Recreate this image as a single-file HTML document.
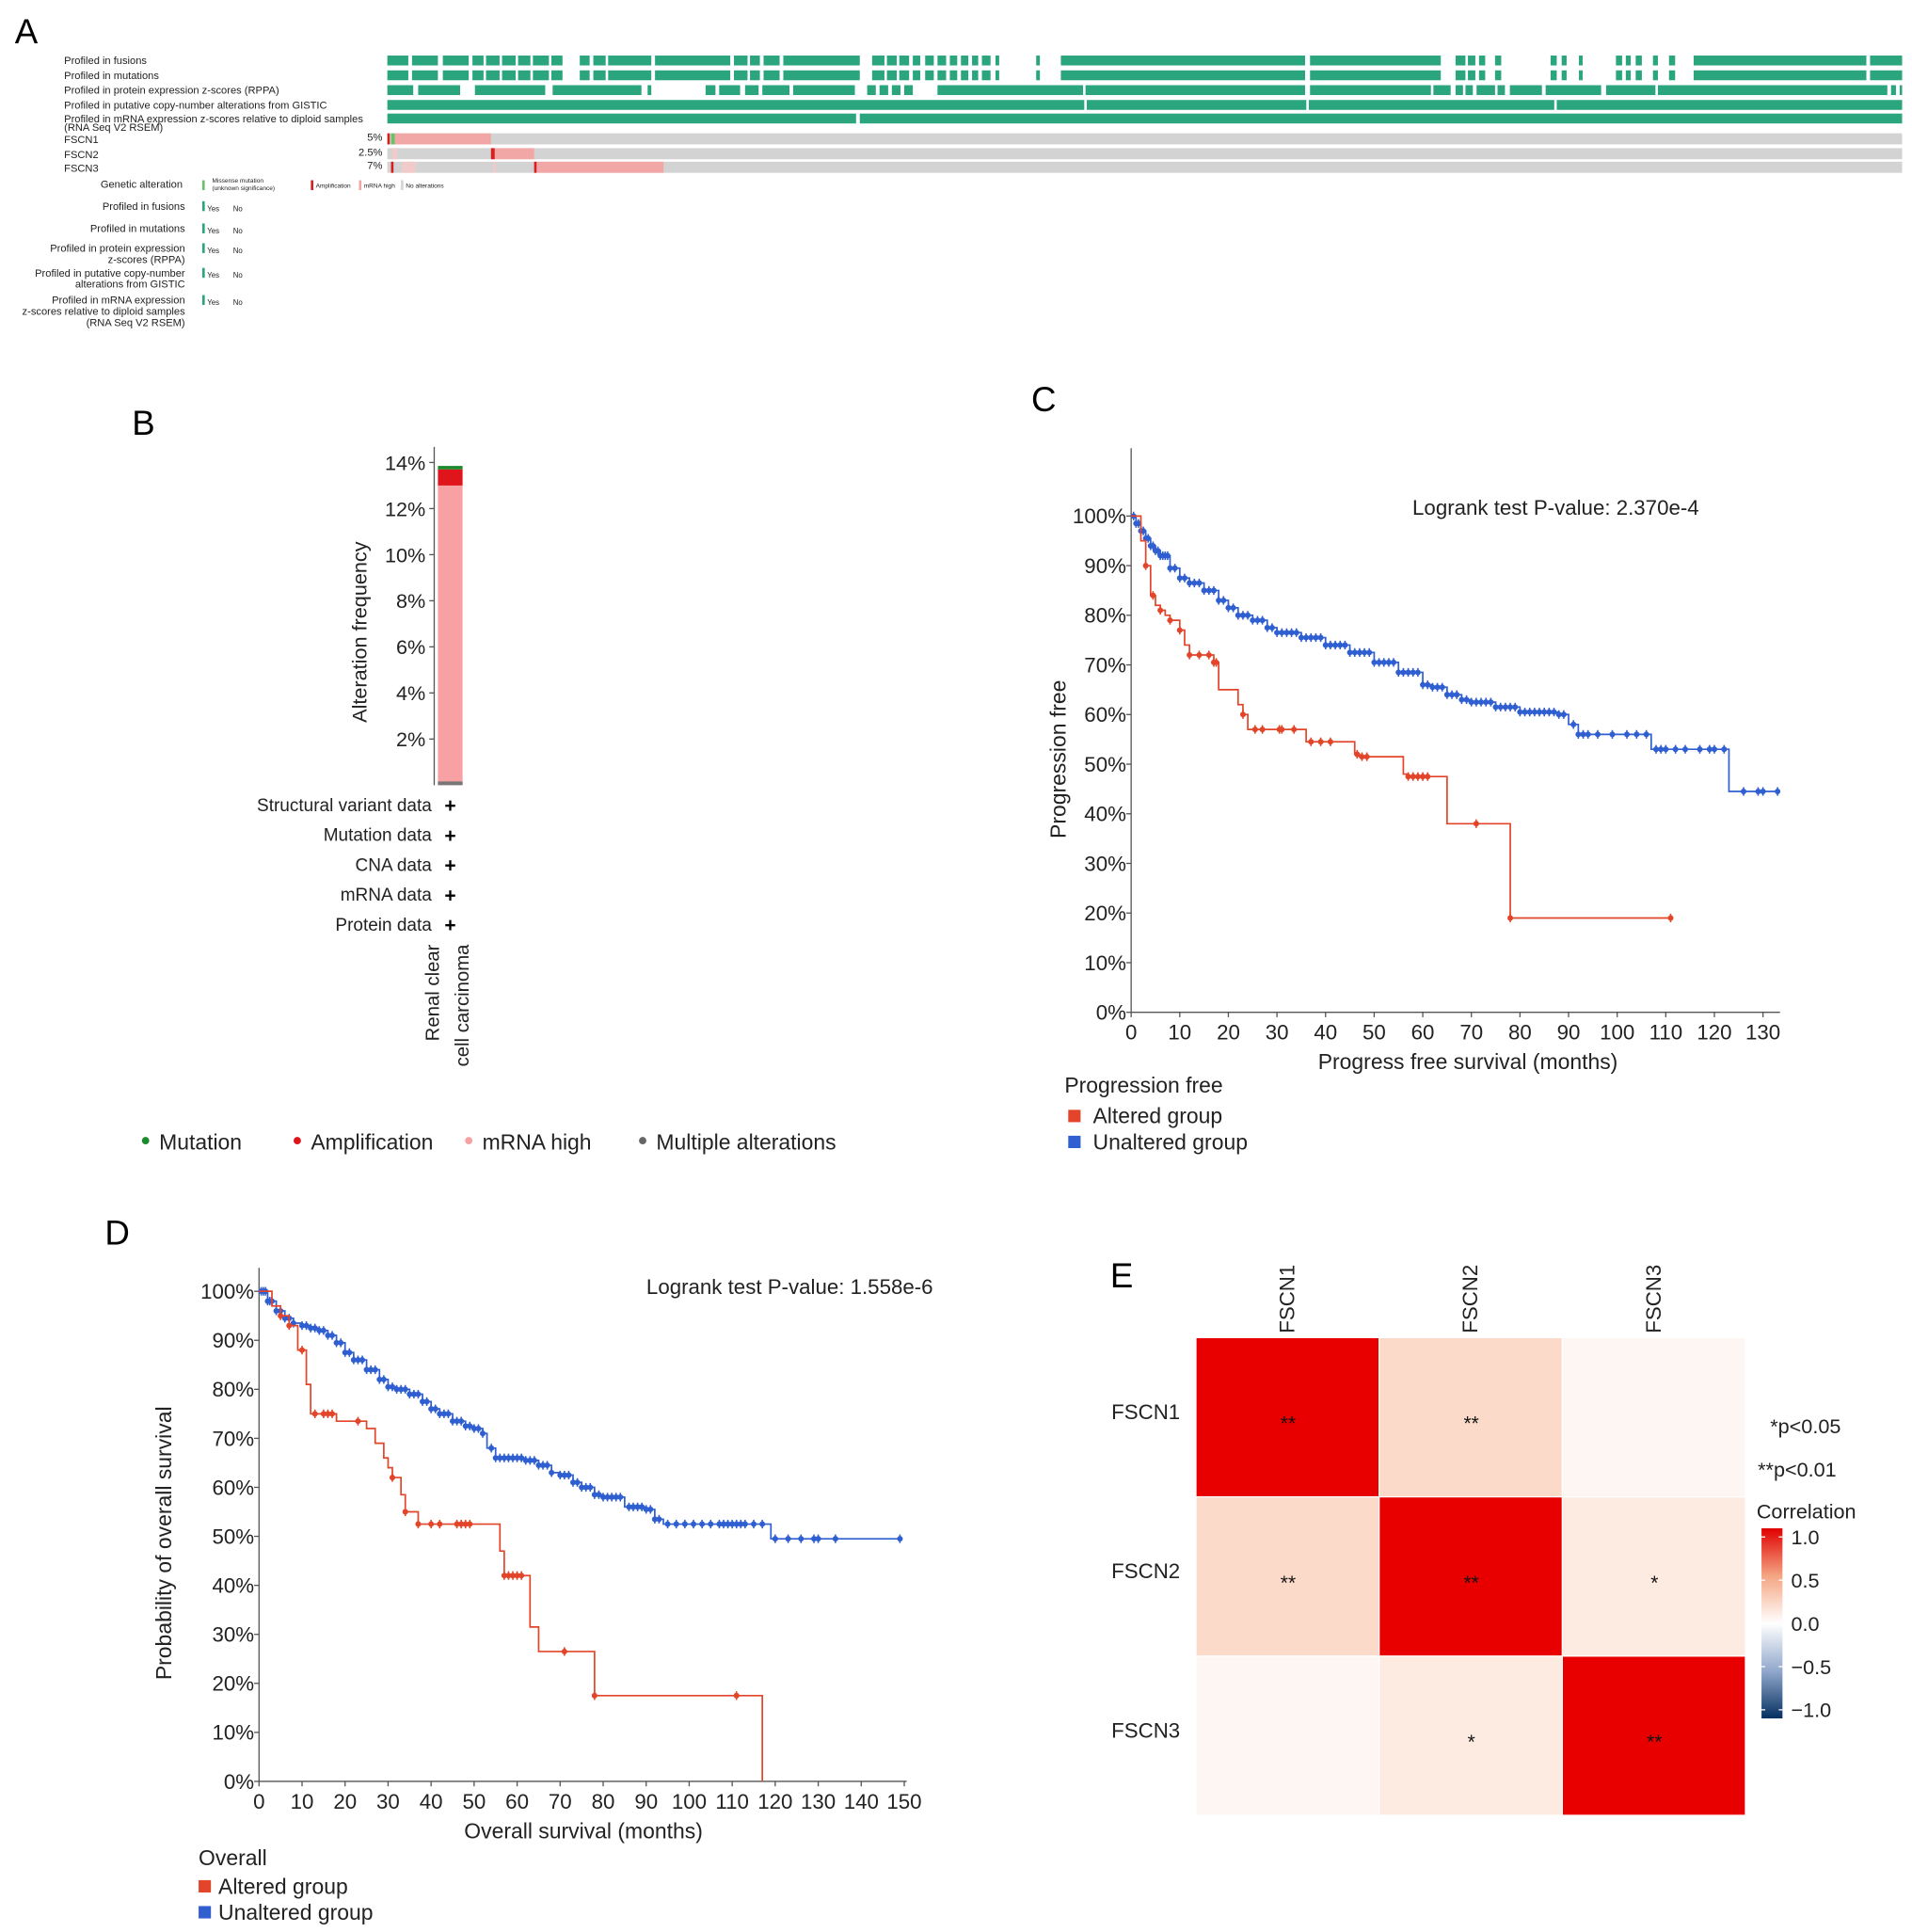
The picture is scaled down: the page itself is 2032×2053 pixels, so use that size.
<!DOCTYPE html>
<html><head><meta charset="utf-8"><style>
html,body{margin:0;padding:0;background:#fff}
svg{display:block;font-family:"Liberation Sans",Arial,sans-serif}
</style></head><body>
<svg id="fig" width="2032" height="2053" viewBox="0 0 1550 1565" preserveAspectRatio="none" xmlns="http://www.w3.org/2000/svg">
<rect width="1550" height="1565" fill="#fff"/>
<g id="pA"></g>
<g id="pB"></g>
<g id="pC"></g>
<g id="pD"></g>
<g id="pE"></g>
</svg>
<script>
// ---------------- DATA ----------------
const cAltT=[0,2,3,4,5,6,7,8,10,11,12,17,18,22,23,24,36,46,47,56,57,65,78];
const cAltS=[100,95,90,84,82,81,80,79,77,74,72,70.5,65,62,60,57,54.5,52,51.5,48,47.5,38,19];
const cAltEnd=111;
const cAltCens=[3,4.5,6,8,10,12,14,16,17,17.5,23,25.5,27,30.5,31,33.5,37,39,41,46.5,47.5,48.5,57,58,59,60,61,71,78,111];
const cUnT=[0,1,2,3,4,5,6,8,10,12,15,18,20,22,25,28,30,35,40,45,50,55,60,62,65,68,70,75,80,88,90,92,107,123];
const cUnS=[100,98.5,97,95.5,94,93,92,89.5,87.5,86.5,85,83,81.5,80,79,77.5,76.5,75.5,74,72.5,70.5,68.5,66,65.5,64,63,62.5,61.5,60.5,60,58,56,53,44.5];
const cUnEnd=133;
const cUnCens=[0.5,1,1.5,2,2.5,3,3.5,4,4.5,5,5.5,6,6.5,7,7.5,8,9,10,11,12,13,14,15,16,17,18,19,20,21,22,23,24,25,26,27,28,29,30,31,32,33,34,35,36,37,38,39,40,41,42,43,44,45,46,47,48,49,50,51,52,53,54,55,56,57,58,59,60,61,62,63,64,65,66,67,68,69,70,71,72,73,74,75,76,77,78,79,80,81,82,83,84,85,86,87,88,89,91,92,93,94,96,99,102,104,106,108,109,110,112,114,117,119,120,122,126,129,130,133];
const cTicksX=[0,10,20,30,40,50,60,70,80,90,100,110,120,130];
const survTicks=[0,10,20,30,40,50,60,70,80,90,100];
const dAltT=[0,3,5,7,9,11,12,18,22,25,27,29,30,31,33,34,37,56,57,63,65,78,117];
const dAltS=[100,97,95,93,88,81,75,73.5,73.5,72,69,66,64,62,58.5,55,52.5,47,42,31.5,26.5,17.5,0];
const dAltEnd=117;
const dAltCens=[5,7,10,13,15,16,17,23,31,34,37,40,42,46,47,48,49,57,58,59,60,61,71,78,111];
const dUnT=[0,2,4,6,8,10,12,14,16,18,20,22,25,28,30,32,35,38,40,42,45,48,50,52,53,55,62,65,68,70,73,75,78,80,85,90,92,94,119];
const dUnS=[100,98,96,94.5,93.5,93,92.5,92,91,89.5,87.5,86,84,82,80.5,80,79,77.5,76,75,73.5,72.5,72,71,68,66,65.5,64.5,63,62.5,61,60,58.5,58,56,55.5,53.5,52.5,49.5];
const dUnEnd=149;
const dUnCens=[0.5,1,1.5,2,2.5,3,4,5,6,7,8,10,11,12,13,14,15,16,17,18,19,20,21,22,23,24,25,26,27,28,29,30,31,32,33,34,35,36,37,38,39,40,41,42,43,44,45,46,47,48,49,50,51,52,54,55,56,57,58,59,60,61,62,63,64,65,66,67,68,70,71,72,73,74,75,76,77,78,79,80,81,82,83,84,86,87,88,89,90,91,92,93,95,97,99,101,103,105,107,108,109,110,111,112,113,115,117,120,123,126,129,130,134,149];
const dTicksX=[0,10,20,30,40,50,60,70,80,90,100,110,120,130,140,150];
const bSegLabels=["mRNA high","Amplification","Mutation","Multiple alterations"];
const bSegValues=[13.0,0.7,0.15,0.0];
const bTicks=[2,4,6,8,10,12,14];
const eGenes=["FSCN1","FSCN2","FSCN3"];
const eCorr=[[1,0.13,0.03],[0.13,1,0.07],[0.03,0.07,1]];
const eSig=[["**","**",""],["**","**","*"],["","*","**"]];
const eLegendTicks=[1.0,0.5,0.0,-0.5,-1.0];

// ---------------- HELPERS ----------------
const NS="http://www.w3.org/2000/svg";
function mk(parent,tag,attrs,text){const e=document.createElementNS(NS,tag);for(const k in attrs)e.setAttribute(k,attrs[k]);if(text!==undefined)e.textContent=text;parent.appendChild(e);return e;}
function txt(parent,x,y,s,size,anchor,extra){const a=Object.assign({x:x,y:y,'font-size':size,'text-anchor':anchor||'start',fill:'#222'},extra||{});return mk(parent,'text',a,s);}

// ---------------- PANEL A ----------------
(function(){
const g=document.getElementById('pA');
const L=txt(g,12,35,'A',28,'start',{fill:'#000'});


const rowLabels=["Profiled in fusions","Profiled in mutations","Profiled in protein expression z-scores (RPPA)","Profiled in putative copy-number alterations from GISTIC","Profiled in mRNA expression z-scores relative to diploid samples"];
const rowY=[45,57,69,81,92];
const gaps=[
[[331,334],[355,359],[380,383],[392,394],[405,407],[418,420],[430,432],[445,447],[456,470],[478,481],[491,493],[528,531],[592,595],[606,608],[616,619],[632,635],[697,707],[717,719],[727,729],[737,740],[746,750],[757,760],[767,770],[776,779],[785,788],[793,796],[803,807],[810,840],[843,860],[1058,1062],[1168,1180],[1188,1190],[1196,1199],[1204,1212],[1217,1257],[1262,1266],[1270,1280],[1283,1310],[1315,1318],[1322,1326],[1331,1340],[1344,1353],[1358,1373],[1513,1516]],
null,
[[335,339],[373,385],[442,448],[520,525],[528,572],[580,583],[600,604],[615,618],[640,643],[693,703],[710,713],[720,723],[730,733],[740,760],[878,880],[1058,1062],[1160,1162],[1176,1180],[1186,1188],[1194,1197],[1212,1214],[1220,1224],[1250,1253],[1298,1302],[1342,1344],[1530,1533],[1537,1540]],
[[879,881],[1059,1061],[1260,1262]],
[[694,697]]];
gaps[1]=gaps[0];
rowLabels.forEach((s,i)=>{
  const t=txt(g,52,rowY[i]+7,s,8.5);
  
  
  const r=mk(g,'rect',{x:314,y:rowY[i],width:1228,height:8,fill:'#2aa57e'});
  
  
  gaps[i].forEach(gp=>mk(g,'rect',{x:gp[0],y:rowY[i]-1,width:gp[1]-gp[0],height:10,fill:'#fff'}));
});
txt(g,52,106,'(RNA Seq V2 RSEM)',8.5);
const genes=[["FSCN1","5%",108],["FSCN2","2.5%",120],["FSCN3","7%",131]];
const segs=[[[320,398,'#f2a7a7'],[314,316,'#d62020'],[317,320,'#6ac36a']],[[400,433,'#f2a7a7'],[398,401,'#d62020'],[318,322,'#f2caca']],[[435,538,'#f2a7a7'],[433,435,'#d62020'],[317,319,'#d62020'],[326,337,'#f2caca'],[400,402,'#f2caca']]];
genes.forEach((gn,i)=>{
  const t=txt(g,52,gn[2]+8,gn[0],8.5);
  
  
  txt(g,310,gn[2]+6,gn[1],8.5,'end');
  const r=mk(g,'rect',{x:314,y:gn[2],width:1228,height:9,fill:'#d3d3d3'});
  
  
  segs[i].forEach(sg=>mk(g,'rect',{x:sg[0],y:gn[2],width:sg[1]-sg[0],height:9,fill:sg[2]}));
});
txt(g,148,152,'Genetic alteration',8.5,'end');
mk(g,'rect',{x:164,y:146,width:2,height:8,fill:'#6ac36a'});
txt(g,172,148,'Missense mutation',5);txt(g,172,154,'(unknown significance)',5);
mk(g,'rect',{x:252,y:146,width:2,height:8,fill:'#d62020'});txt(g,256,152,'Amplification',5);
mk(g,'rect',{x:291,y:146,width:2,height:8,fill:'#f2a7a7'});txt(g,295,152,'mRNA high',5);
mk(g,'rect',{x:325,y:146,width:2,height:8,fill:'#d3d3d3'});txt(g,329,152,'No alterations',5);
const leg=[["Profiled in fusions",null,170],["Profiled in mutations",null,188],["Profiled in protein expression","z-scores (RPPA)",204],["Profiled in putative copy-number","alterations from GISTIC",224],["Profiled in mRNA expression","z-scores relative to diploid samples",246]];
leg.forEach(l=>{
  txt(g,150,l[2],l[0],8.5,'end');
  if(l[1])txt(g,150,l[2]+9,l[1],8.5,'end');
  mk(g,'rect',{x:164,y:l[2]-7,width:2,height:8,fill:'#2aa57e'});
  txt(g,168,l[2]+1,'Yes',6);txt(g,189,l[2]+1,'No',6);
});
txt(g,150,264,'(RNA Seq V2 RSEM)',8.5,'end');
})();

// ---------------- PANEL B ----------------
(function(){
const g=document.getElementById('pB');
const L=txt(g,107,352,'B',28,'start',{fill:'#000'});


const y0=636,ppu=18.67;const yB=v=>y0-v*ppu;
mk(g,'line',{x1:352,y1:362,x2:352,y2:636,stroke:'#555','stroke-width':1});
bTicks.forEach(v=>{
  mk(g,'line',{x1:348,y1:yB(v),x2:352,y2:yB(v),stroke:'#555'});
  const t=txt(g,345,yB(v)+6,v+'%',16.5,'end');
  
  
});
const yt=txt(g,0,0,'Alteration frequency',16.5,'middle',{transform:'translate(297,512) rotate(-90)'});


const cols=['#f8a1a4','#e0141b','#1b8a2b','#666'];
let acc=0;
bSegValues.forEach((v,i)=>{
  const r=mk(g,'rect',{x:355,y:yB(acc+v),width:20,height:v*ppu,fill:cols[i]});
  
  
  acc+=v;
});
mk(g,'rect',{x:355,y:633,width:20,height:3,fill:'#777'});
const rows=["Structural variant data","Mutation data","CNA data","mRNA data","Protein data"];
rows.forEach((s,i)=>{const y=652+i*24.2;txt(g,350,y+5,s,14.5,'end');txt(g,365,y+6,'+',16,'middle',{'font-weight':'bold',fill:'#000'});});
txt(g,0,0,'Renal clear',15.5,'end',{transform:'translate(356,765) rotate(-90)'});
txt(g,0,0,'cell carcinoma',15.5,'end',{transform:'translate(380,765) rotate(-90)'});
const lg=[["Mutation",118,'#1b8a2b'],["Amplification",241,'#e0141b'],["mRNA high",380,'#f8a1a4'],["Multiple alterations",521,'#666']];
lg.forEach(l=>{
  const c=mk(g,'circle',{cx:l[1],cy:924,r:3,fill:l[2]});
  
  
  const t=txt(g,l[1]+11,931,l[0],17.5);
  
  
});
})();

// ---------------- SURVIVAL HELPER ----------------
function survPlot(g,cfg){
  const xs=t=>cfg.x0+t*cfg.px, ys=s=>cfg.y0-s*cfg.py;
  mk(g,'line',{x1:cfg.x0,y1:cfg.top,x2:cfg.x0,y2:cfg.y0,stroke:'#555'});
  mk(g,'line',{x1:cfg.x0,y1:cfg.y0,x2:cfg.xEnd,y2:cfg.y0,stroke:'#555'});
  survTicks.forEach(v=>{
    mk(g,'line',{x1:cfg.x0-4,y1:ys(v),x2:cfg.x0,y2:ys(v),stroke:'#555'});
    const t=txt(g,cfg.x0-4,ys(v)+6,v+'%',17,'end');
    
    
  });
  cfg.ticksX.forEach(v=>{
    mk(g,'line',{x1:xs(v),y1:cfg.y0,x2:xs(v),y2:cfg.y0+4,stroke:'#555'});
    const t=txt(g,xs(v),cfg.y0+22,String(v),17,'middle');
    
    
  });
  function curve(T,S,end,cens,color,name){
    let d='M'+xs(T[0])+' '+ys(S[0]);
    for(let i=1;i<T.length;i++){d+=' H'+xs(T[i])+' V'+ys(S[i]);}
    d+=' H'+xs(end);
    const p=mk(g,'path',{d:d,fill:'none',stroke:color,'stroke-width':1.3});
    
    
    const sv=t=>{let s=S[0];for(let i=0;i<T.length;i++){if(T[i]<=t)s=S[i];}return s;};
    cens.forEach(t=>{
      const cx=xs(t),cy=ys(sv(t));
      const c=mk(g,'circle',{cx:cx,cy:cy,r:2.3,fill:color});
      
      
      mk(g,'line',{x1:cx,y1:cy-3.5,x2:cx,y2:cy+3.5,stroke:color,'stroke-width':1.2});
    });
  }
  curve(cfg.unT,cfg.unS,cfg.unEnd,cfg.unC,'#2f5fd0','unaltered');
  curve(cfg.altT,cfg.altS,cfg.altEnd,cfg.altC,'#e2452a','altered');
}

// ---------------- PANEL C ----------------
(function(){
const g=document.getElementById('pC');
const L=txt(g,836,333,'C',28,'start',{fill:'#000'});


survPlot(g,{x0:917,y0:820,top:363,xEnd:1443,px:3.94,py:4.02,ticksX:cTicksX,altT:cAltT,altS:cAltS,altEnd:cAltEnd,altC:cAltCens,unT:cUnT,unS:cUnS,unEnd:cUnEnd,unC:cUnCens});
const a=txt(g,1145,417,'Logrank test P-value: 2.370e-4',17);


const xt=txt(g,1190,866,'Progress free survival (months)',17.5,'middle');


const yt=txt(g,0,0,'Progression free',17.5,'middle',{transform:'translate(864,615) rotate(-90)'});


txt(g,863,885,'Progression free',17.5);
mk(g,'rect',{x:866,y:899,width:10,height:10,fill:'#e2452a'});
const l1=txt(g,886,910,'Altered group',17.5);


mk(g,'rect',{x:866,y:920,width:10,height:10,fill:'#2f5fd0'});
const l2=txt(g,886,931,'Unaltered group',17.5);


})();

// ---------------- PANEL D ----------------
(function(){
const g=document.getElementById('pD');
const L=txt(g,85,1008,'D',28,'start',{fill:'#000'});


survPlot(g,{x0:210,y0:1443,top:1027,xEnd:735,px:3.487,py:3.97,ticksX:dTicksX,altT:dAltT,altS:dAltS,altEnd:dAltEnd,altC:dAltCens,unT:dUnT,unS:dUnS,unEnd:dUnEnd,unC:dUnCens});
const a=txt(g,524,1048,'Logrank test P-value: 1.558e-6',17);


const xt=txt(g,473,1489,'Overall survival (months)',17.5,'middle');


const yt=txt(g,0,0,'Probability of overall survival',17.5,'middle',{transform:'translate(139,1250) rotate(-90)'});


txt(g,161,1511,'Overall',17.5);
mk(g,'rect',{x:161,y:1523,width:10,height:10,fill:'#e2452a'});
const l1=txt(g,177,1534,'Altered group',17.5);


mk(g,'rect',{x:161,y:1544,width:10,height:10,fill:'#2f5fd0'});
const l2=txt(g,177,1555,'Unaltered group',17.5);


})();

// ---------------- PANEL E ----------------
(function(){
const g=document.getElementById('pE');
const L=txt(g,900,1043,'E',28,'start',{fill:'#000'});


const x0=970,y0=1084,cw=148.5,ch=129;
function col(v){
  if(v>=0){const t=Math.min(1,v);return 'rgb('+Math.round(255-(255-232)*t)+','+Math.round(255*(1-t)-8*t*(1-t)*4)+','+Math.round(255*(1-t)-30*(1-t)*Math.min(1,t*6))+')';}
  const t=Math.min(1,-v);return 'rgb('+Math.round(255*(1-t)+5*t)+','+Math.round(255*(1-t)+48*t)+','+Math.round(255*(1-t)+97*t)+')';
}
eCorr.forEach((row,i)=>row.forEach((v,j)=>{
  const r=mk(g,'rect',{x:x0+j*cw,y:y0+i*ch,width:cw-1,height:ch-1,fill:col(v)});
  
  
  if(eSig[i][j])txt(g,x0+j*cw+cw/2,y0+i*ch+ch/2+10,eSig[i][j],16,'middle',{fill:'#111'});
}));
eGenes.forEach((gn,i)=>{
  const t=txt(g,0,0,gn,17,'start',{transform:'translate('+(x0+i*cw+cw/2+5)+',1080) rotate(-90)'});
  
  
  const r=txt(g,901,y0+i*ch+ch/2+1,gn,17);
  
  
});
txt(g,1435,1161,'*p<0.05',16.5);
txt(g,1425,1196,'**p<0.01',16.5);
const ct=txt(g,1424,1230,'Correlation',16.5);


const defs=mk(g,'defs',{});
const lgd=mk(defs,'linearGradient',{id:'cg',x1:0,y1:0,x2:0,y2:1});
[[0,'#e00000'],[0.25,'#f4a582'],[0.5,'#ffffff'],[0.75,'#92a8cc'],[1,'#053061']].forEach(s=>mk(lgd,'stop',{offset:s[0],'stop-color':s[1]}));
const cb=mk(g,'rect',{x:1428,y:1238,width:17,height:154,fill:'url(#cg)'});


eLegendTicks.forEach(v=>{
  const y=1245+(1-v)*70;
  mk(g,'line',{x1:1428,y1:y,x2:1431,y2:y,stroke:'#fff'});
  mk(g,'line',{x1:1442,y1:y,x2:1445,y2:y,stroke:'#fff'});
  const t=txt(g,1452,y+6,(v<0?'\u2212':'')+Math.abs(v).toFixed(1),16.5);
  
  
});
})();
</script>
</body></html>
